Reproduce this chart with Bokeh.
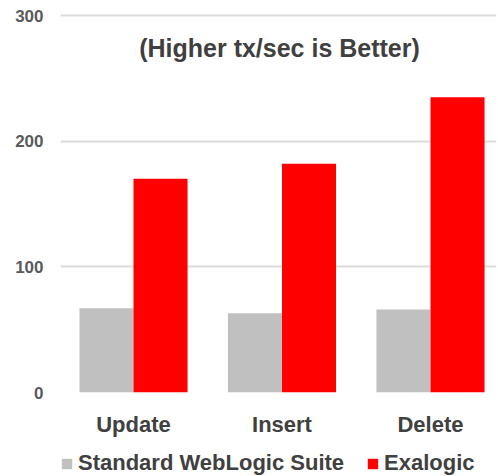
from bokeh.plotting import figure
from bokeh.layouts import column
from bokeh.models import ColumnDataSource, Range1d, FixedTicker, Legend, LegendItem, Label
from bokeh.embed import file_html
from bokeh.resources import INLINE

categories = ["Update", "Insert", "Delete"]
standard = [67, 63, 66]
exalogic = [170, 182, 235]
y_ticks = [0, 100, 200, 300]
title_text = "(Higher tx/sec is Better)"
series_names = ["Standard WebLogic Suite", "Exalogic"]
series_colors = ["#c0c0c0", "#ff0000"]

FONT = "Liberation Sans"
xs = list(range(len(categories)))
bw = 0.364
src = ColumnDataSource(dict(
    x_std=[x - bw / 2 for x in xs],
    x_exa=[x + bw / 2 for x in xs],
    std=standard,
    exa=exalogic,
))

p = figure(width=498, height=440, output_backend="svg", toolbar_location=None,
           x_range=Range1d(-0.4916, 2.4445), y_range=Range1d(0, 301.6),
           min_border_left=60, min_border_right=2, min_border_top=13, min_border_bottom=48)
p.outline_line_color = None
p.background_fill_color = "white"
p.border_fill_color = "white"

p.vbar(x="x_std", top="std", width=bw, source=src, fill_color=series_colors[0], line_color=None)
p.vbar(x="x_exa", top="exa", width=bw, source=src, fill_color=series_colors[1], line_color=None)

p.xgrid.grid_line_color = None
p.ygrid.grid_line_color = "#dcdcdc"
p.ygrid.grid_line_width = 2
p.ygrid.level = "underlay"

p.yaxis.ticker = FixedTicker(ticks=y_ticks)
p.yaxis.axis_line_color = None
p.yaxis.major_tick_line_color = None
p.yaxis.minor_tick_line_color = None
p.yaxis.major_tick_out = 0
p.yaxis.major_tick_in = 0
p.yaxis.major_label_standoff = 17
p.yaxis.major_label_text_font = FONT
p.yaxis.major_label_text_font_size = "17px"
p.yaxis.major_label_text_font_style = "bold"
p.yaxis.major_label_text_color = "#5a5a5a"

p.xaxis.ticker = FixedTicker(ticks=xs)
p.xaxis.major_label_overrides = {i: c for i, c in zip(xs, categories)}
p.xaxis.axis_line_color = None
p.xaxis.major_tick_line_color = None
p.xaxis.minor_tick_line_color = None
p.xaxis.major_tick_out = 0
p.xaxis.major_tick_in = 0
p.xaxis.major_label_standoff = 19
p.xaxis.major_label_text_font = FONT
p.xaxis.major_label_text_font_size = "22px"
p.xaxis.major_label_text_font_style = "bold"
p.xaxis.major_label_text_color = "#404040"

title = Label(x=219, y=274, x_units="screen", y_units="data", text=title_text,
              text_align="center", text_baseline="middle", text_font=FONT,
              text_font_size="25px", text_font_style="bold", text_color="#404040")
p.add_layout(title)

# legend strip below the chart (its renderers lie far outside the visible ranges)
leg = figure(width=498, height=36, output_backend="svg", toolbar_location=None,
             x_range=Range1d(1000, 1001), y_range=Range1d(100000, 100001),
             x_axis_location=None, y_axis_location=None,
             min_border_left=0, min_border_right=0, min_border_top=0, min_border_bottom=0)
leg.outline_line_color = None
leg.xgrid.visible = False
leg.ygrid.visible = False
lr1 = leg.vbar(x="x_std", top="std", width=bw, source=src, fill_color=series_colors[0], line_color=None)
lr2 = leg.vbar(x="x_exa", top="exa", width=bw, source=src, fill_color=series_colors[1], line_color=None)
legend = Legend(items=[LegendItem(label=series_names[0], renderers=[lr1]),
                       LegendItem(label=series_names[1], renderers=[lr2])],
                orientation="horizontal", location=(0, 0),
                glyph_width=13, glyph_height=13, label_standoff=5, spacing=22,
                padding=0, margin=0, border_line_color=None, background_fill_alpha=0,
                label_text_font=FONT, label_text_font_size="22px",
                label_text_font_style="bold", label_text_color="#404040")
leg.add_layout(legend, "center")

layout = column(p, leg, spacing=0)
open("out.html", "w").write(file_html(layout, INLINE))
